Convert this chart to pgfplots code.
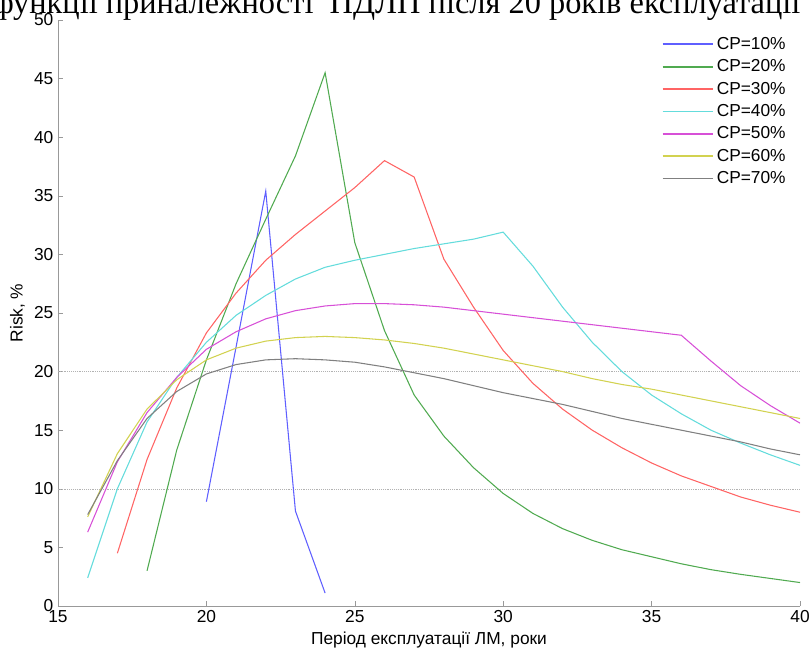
\documentclass[border=0pt]{standalone}
\usepackage{fontspec}
\setmainfont{Liberation Sans}
\newfontfamily\titlefont{Liberation Serif}
\usepackage{pgfplots}
\pgfplotsset{compat=1.18}
\definecolor{c10}{RGB}{95,95,255}
\definecolor{c20}{RGB}{80,170,80}
\definecolor{c30}{RGB}{255,100,100}
\definecolor{c40}{RGB}{100,220,220}
\definecolor{c50}{RGB}{215,80,215}
\definecolor{c60}{RGB}{210,210,80}
\definecolor{c70}{RGB}{128,128,128}
\begin{document}
\begin{tikzpicture}
\begin{axis}[
    scale only axis,
    width=556.5pt, height=439.5pt,
    xmin=15, xmax=40, ymin=0, ymax=50,
    xtick={15,20,...,40}, ytick={0,5,...,50},
    axis x line*=bottom, axis y line*=left,
    axis line style={-, gray!80},
    tick align=inside, major tick length=4pt,
    tick style={gray!80},
    ticklabel style={font=\fontsize{13}{15}\selectfont},
    /pgf/number format/assume math mode=true,
    xlabel={Період експлуатації ЛМ, роки},
    ylabel={Risk, \%},
    label style={font=\fontsize{13}{15}\selectfont},
    extra y ticks={10,20}, extra y tick labels={},
    extra y tick style={grid=major, major grid style={densely dotted, gray!60}, major tick length=0pt},
    legend style={draw=none, fill=none, at={(0.99,0.98)}, anchor=north east,
        font=\fontsize{13}{15}\selectfont, row sep=2.2pt},
    legend cell align=left,
    legend image code/.code={\draw[#1, line width=1.3pt] (0pt,0pt) -- (38pt,0pt);},
    every axis plot/.append style={line width=0.8pt},
]
\coordinate (bl) at (rel axis cs:0,0);
\coordinate (tr) at (rel axis cs:1,1);
\addplot[color=c10] coordinates {(20,8.9) (21,22.1) (22,35.4) (23,8.1) (24,1.1)};
\addlegendentry{CP=10\%}
\addplot[color=c20] coordinates {(18,3.0) (19,13.3) (20,21.0) (21,27.5) (22,33.0) (23,38.4) (24,45.5)
    (25,31.0) (26,23.5) (27,18.0) (28,14.5) (29,11.8) (30,9.6) (31,7.9) (32,6.6) (33,5.6)
    (34,4.8) (35,4.2) (36,3.6) (37,3.1) (38,2.7) (39,2.35) (40,2.0)};
\addlegendentry{CP=20\%}
\addplot[color=c30] coordinates {(17,4.5) (18,12.5) (19,18.6) (20,23.3) (21,26.7) (22,29.5) (23,31.7)
    (24,33.7) (25,35.7) (26,38.0) (27,36.6) (28,29.6) (29,25.5) (30,21.8) (31,19.0) (32,16.8)
    (33,15.0) (34,13.5) (35,12.2) (36,11.1) (37,10.2) (38,9.3) (39,8.6) (40,8.0)};
\addlegendentry{CP=30\%}
\addplot[color=c40] coordinates {(16,2.4) (17,10.0) (18,15.7) (19,19.5) (20,22.5) (21,24.8) (22,26.5)
    (23,27.9) (24,28.9) (25,29.5) (26,30.0) (27,30.5) (28,30.9) (29,31.3) (30,31.9) (31,29.0)
    (32,25.5) (33,22.5) (34,20.0) (35,18.0) (36,16.4) (37,15.0) (38,13.9) (39,12.9) (40,12.0)};
\addlegendentry{CP=40\%}
\addplot[color=c50] coordinates {(16,6.3) (17,12.3) (18,16.5) (19,19.5) (20,21.9) (21,23.4) (22,24.5)
    (23,25.2) (24,25.6) (25,25.8) (26,25.8) (27,25.7) (28,25.5) (29,25.2) (30,24.9) (31,24.6)
    (32,24.3) (33,24.0) (34,23.7) (35,23.4) (36,23.1) (37,20.9) (38,18.8) (39,17.1) (40,15.6)};
\addlegendentry{CP=50\%}
\addplot[color=c60] coordinates {(16,7.6) (17,13.0) (18,16.8) (19,19.3) (20,21.0) (21,22.0) (22,22.6)
    (23,22.9) (24,23.0) (25,22.9) (26,22.7) (27,22.4) (28,22.0) (29,21.5) (30,21.0) (31,20.5)
    (32,20.0) (33,19.4) (34,18.9) (35,18.5) (36,18.0) (37,17.5) (38,17.0) (39,16.5) (40,16.0)};
\addlegendentry{CP=60\%}
\addplot[color=c70] coordinates {(16,7.8) (17,12.4) (18,16.0) (19,18.3) (20,19.8) (21,20.6) (22,21.0)
    (23,21.1) (24,21.0) (25,20.8) (26,20.4) (27,19.9) (28,19.4) (29,18.8) (30,18.2) (31,17.7)
    (32,17.2) (33,16.6) (34,16.0) (35,15.5) (36,15.0) (37,14.5) (38,14.0) (39,13.4) (40,12.9)};
\addlegendentry{CP=70\%}
\end{axis}
\node[anchor=base west, inner sep=0pt, font=\titlefont\fontsize{24.3}{29}\selectfont]
    at ([shift={(-49pt,4.5pt)}]tr -| bl) {функції приналежності\ \ ПДЛП після 20 років експлуатації};
\pgfresetboundingbox
\path[use as bounding box] ([shift={(-43.5pt,-33.75pt)}]bl) rectangle ([shift={(7.5pt,15pt)}]tr);
\end{tikzpicture}
\end{document}
